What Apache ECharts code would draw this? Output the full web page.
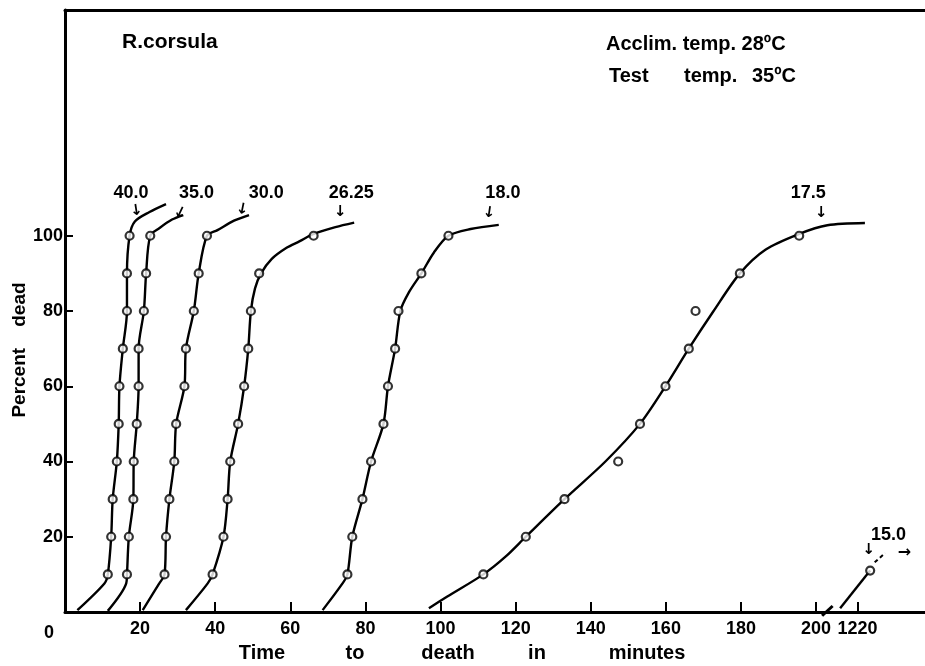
<!DOCTYPE html>
<html>
<head>
<meta charset="utf-8">
<script src="https://cdn.jsdelivr.net/npm/echarts@6/dist/echarts.min.js"></script>
<style>
html,body{margin:0;padding:0;background:#fff;}
#chart{width:925px;height:666px;}
</style>
</head>
<body>
<div id="chart"></div>
<script>
// ---------------- DATA ----------------
// Percent dead levels of the observed points
const percentLevels = [10, 20, 30, 40, 50, 60, 70, 80, 90, 100];

// Time to death (minutes) of each observed point, by lethal test temperature label
const minutes40   = [11.4, 12.3, 12.7, 13.8, 14.3, 14.5, 15.4, 16.5, 16.5, 17.2];
const minutes35   = [16.5, 17.0, 18.2, 18.3, 19.1, 19.6, 19.6, 21.0, 21.6, 22.7];
const minutes30   = [26.5, 26.9, 27.8, 29.1, 29.6, 31.8, 32.2, 34.3, 35.6, 37.8];
const minutes2625 = [39.3, 42.2, 43.3, 44.0, 46.1, 47.7, 48.8, 49.5, 51.7, 66.2];
const minutes18   = [75.2, 76.5, 79.2, 81.5, 84.8, 86.0, 87.9, 88.8, 94.9, 102.1];
const minutes175  = [111.4, 122.7, 133.0, 147.3, 153.1, 159.9, 166.1, 167.9, 179.7, 195.5];
const minutes15   = [1223.4];
const percent15   = [11];

// Hand-fitted curves [minutes, percent dead]
const curve40   = [[3.3,0.5],[10.5,7.6],[11.4,10],[12.3,20],[12.7,30],[13.8,40],[14.3,50],[14.5,60],[15.4,70],[16.5,80],[16.5,90],[17.2,100],[18.6,103.8],[22.5,106.3],[26.9,108.4]];
const curve35   = [[11.4,0.3],[16.3,7.6],[16.5,10],[17.0,20],[18.2,30],[18.3,40],[19.1,50],[19.6,60],[19.6,70],[21.0,80],[21.6,90],[22.7,100],[25.1,102],[28.5,104.3],[31.5,105.5]];
const curve30   = [[20.7,0.5],[25.1,7.6],[26.5,10],[26.9,20],[27.8,30],[29.1,40],[29.6,50],[31.8,60],[32.2,70],[34.3,80],[35.6,90],[37.8,100],[40.6,101.5],[45,104],[49,105.5]];
const curve2625 = [[32.2,0.5],[38,7.6],[39.3,10],[42.2,20],[43.3,30],[44.0,40],[46.1,50],[47.7,60],[48.8,70],[49.5,80],[50.6,86],[52.2,90],[55,93.8],[59,96.8],[62.4,98.5],[66.2,100.5],[72,102.3],[77,103.5]];
const curve18   = [[68.6,0.5],[73.9,7.6],[75.2,10],[76.5,20],[79.2,30],[81.5,40],[84.8,50],[86.0,60],[87.9,70],[89.3,80],[91.6,85],[94.9,90],[98.2,95.5],[102.1,100],[108,101.8],[115.5,102.9]];
const curve175  = [[96.9,1],[101.8,4.1],[111.4,10],[117.3,14.7],[122.7,20],[133.0,30],[143.9,40],[153.1,50],[159.9,60],[166.1,70],[172.7,80],[179.7,90],[186.5,96.3],[195.5,100.5],[203,102.8],[213,103.4]];
const curve15   = [[1215.4,1],[1223.4,11]];
const curve15Tail = [[1224.6,13.2],[1227.4,15.7]];

// Curve labels
const curveNames = ['40.0', '35.0', '30.0', '26.25', '18.0', '17.5', '15.0'];

// Axis ticks / labels
const xTickValues = [0, 20, 40, 60, 80, 100, 120, 140, 160, 180, 200, 1220];
const yTickValues = [20, 40, 60, 80, 100];

// ---------------- AXIS BREAK (200 ... 1220 minutes) ----------------
const BREAK_FROM = 1000, BREAK_SHIFT = 1009;   // 1220 min is drawn at axis position 211
const bx = v => (v > BREAK_FROM ? v - BREAK_SHIFT : v);
const breakAt = 203;

const FONT = "'Liberation Sans', Arial, 'DejaVu Sans', sans-serif";
const BLACK = '#000';

function pts(mins, pcts) { return mins.map((m, i) => [bx(m), pcts[i]]); }
function crv(c) { return c.map(p => [bx(p[0]), p[1]]); }

const pointSets = [
  pts(minutes40, percentLevels), pts(minutes35, percentLevels), pts(minutes30, percentLevels),
  pts(minutes2625, percentLevels), pts(minutes18, percentLevels), pts(minutes175, percentLevels),
  pts(minutes15, percent15)
];
const curveSets = [curve40, curve35, curve30, curve2625, curve18, curve175, curve15].map(crv);

const series = [];
curveSets.forEach((c, i) => {
  series.push({
    type: 'line', name: curveNames[i] + ' curve', data: c, smooth: 0.3,
    showSymbol: false, symbol: 'none', silent: true, z: 2,
    lineStyle: { color: BLACK, width: 2.4 }
  });
});
series.push({
  type: 'line', data: crv(curve15Tail), showSymbol: false, symbol: 'none', silent: true, z: 2,
  lineStyle: { color: BLACK, width: 2, type: [4, 3] }
});
pointSets.forEach((p, i) => {
  series.push({
    type: 'scatter', name: curveNames[i], data: p, symbol: 'circle', symbolSize: 8, z: 5,
    itemStyle: { color: '#fff', borderColor: BLACK, borderWidth: 2.2 }
  });
});
// axis break mark
series.push({
  type: 'line', data: [[breakAt - 1.4, -1.0], [breakAt + 1.4, 1.6]], showSymbol: false, symbol: 'none',
  silent: true, z: 6, clip: false, lineStyle: { color: BLACK, width: 3 }
});

const xTickPos = xTickValues.map(bx);

const option = {
  animation: false,
  backgroundColor: '#fff',
  grid: { left: 65, right: 0, top: 10, bottom: 54, containLabel: false },
  xAxis: [{
    type: 'value', min: 0, max: 229,
    axisLine: { show: true, lineStyle: { color: BLACK, width: 3 } },
    axisTick: { show: true, inside: true, length: 10, customValues: xTickPos.filter(v => v > 0), lineStyle: { color: BLACK, width: 2 } },
    axisLabel: {
      show: true, customValues: xTickPos, margin: 8,
      color: BLACK, fontFamily: FONT, fontWeight: 'bold', fontSize: 18,
      formatter: v => v === 0 ? '{o|0}' : (v > 205 ? String(Math.round(v + BREAK_SHIFT)) : String(v)),
      rich: { o: { padding: [4, 32, 0, 0], fontFamily: FONT, fontWeight: 'bold', fontSize: 18, color: BLACK } }
    },
    splitLine: { show: false }
  }, {
    type: 'value', min: 0, max: 229, position: 'top',
    axisLine: { show: true, onZero: false, lineStyle: { color: BLACK, width: 3 } },
    axisTick: { show: false }, axisLabel: { show: false }, splitLine: { show: false }
  }],
  yAxis: {
    type: 'value', min: 0, max: 160,
    axisLine: { show: true, lineStyle: { color: BLACK, width: 3 } },
    axisTick: { show: true, inside: true, length: 8, customValues: yTickValues, lineStyle: { color: BLACK, width: 2 } },
    axisLabel: { show: true, customValues: yTickValues, margin: 2, color: BLACK, fontFamily: FONT, fontWeight: 'bold', fontSize: 18 },
    splitLine: { show: false }
  },
  series: series
};

const chart = echarts.init(document.getElementById('chart'), null, { renderer: 'canvas' });
chart.setOption(option);

// ---------- annotations, placed through the chart's own scales ----------
const curveAnnotations = [
  { text: curveNames[0], at: [17.6, 111.4], arrow: [19.0, 106.6], rot: 0.15 },
  { text: curveNames[1], at: [35.0, 111.4], arrow: [30.5, 106.0], rot: -0.45 },
  { text: curveNames[2], at: [53.6, 111.4], arrow: [47.2, 106.9], rot: -0.2 },
  { text: curveNames[3], at: [76.2, 111.4], arrow: [73.3, 106.4], rot: 0 },
  { text: curveNames[4], at: [116.6, 111.4], arrow: [112.9, 106.0], rot: -0.15 },
  { text: curveNames[5], at: [197.9, 111.4], arrow: [201.4, 106.0], rot: 0 },
  { text: curveNames[6], at: [bx(1228.3), 20.5], arrow: [bx(1223.0), 16.4], rot: 0 }
];
const px = c => chart.convertToPixel({ xAxisIndex: 0, yAxisIndex: 0 }, c);
const txt = (t, p, size, extra) => Object.assign({
  type: 'text', x: p[0], y: p[1], z: 20,
  style: { text: t, fill: BLACK, font: 'bold ' + size + 'px ' + FONT, align: 'center', verticalAlign: 'middle' }
}, extra || {});

const graphics = [];
curveAnnotations.forEach(a => {
  graphics.push(txt(a.text, px(a.at), 18));
  const ap = px(a.arrow);
  graphics.push({ type: 'text', x: ap[0], y: ap[1], rotation: a.rot, z: 20,
    style: { text: '↓', fill: BLACK, font: 'bold 15px "DejaVu Sans"', align: 'center', verticalAlign: 'middle' } });
});
// "→" after the 15.0 point
const ar = px([bx(1232.5), 15.7]);
graphics.push({ type: 'text', x: ar[0], y: ar[1], z: 20,
  style: { text: '→', fill: BLACK, font: 'bold 16px "DejaVu Sans"', align: 'center', verticalAlign: 'middle' } });

// Header texts
const hfont = 'bold 20px ' + FONT;
const htext = (t, x, y) => ({ type: 'text', x: x, y: y, z: 20, style: { text: t, fill: BLACK, font: hfont, align: 'left', verticalAlign: 'middle' } });
graphics.push({ type: 'text', x: 122, y: 42, z: 20, style: { text: 'R.corsula', fill: BLACK, font: 'bold 21px ' + FONT, align: 'left', verticalAlign: 'middle' } });
const hx = 606;
graphics.push(htext('Acclim. temp. 28ºC', hx, 44));
graphics.push(htext('Test', hx + 3, 76));
graphics.push(htext('temp.', hx + 78, 76));
graphics.push(htext('35ºC', hx + 146, 76));

// Axis titles
graphics.push({ type: 'text', x: 20, y: 350, rotation: Math.PI / 2, z: 20,
  style: { text: 'Percent    dead', fill: BLACK, font: 'bold 19px ' + FONT, align: 'center', verticalAlign: 'middle' } });
[['Time', 262], ['to', 355], ['death', 448], ['in', 537], ['minutes', 647]].forEach(w => {
  graphics.push({ type: 'text', x: w[1], y: 653, z: 20,
    style: { text: w[0], fill: BLACK, font: 'bold 20px ' + FONT, align: 'center', verticalAlign: 'middle' } });
});

chart.setOption({ graphic: graphics });
</script>
</body>
</html>
